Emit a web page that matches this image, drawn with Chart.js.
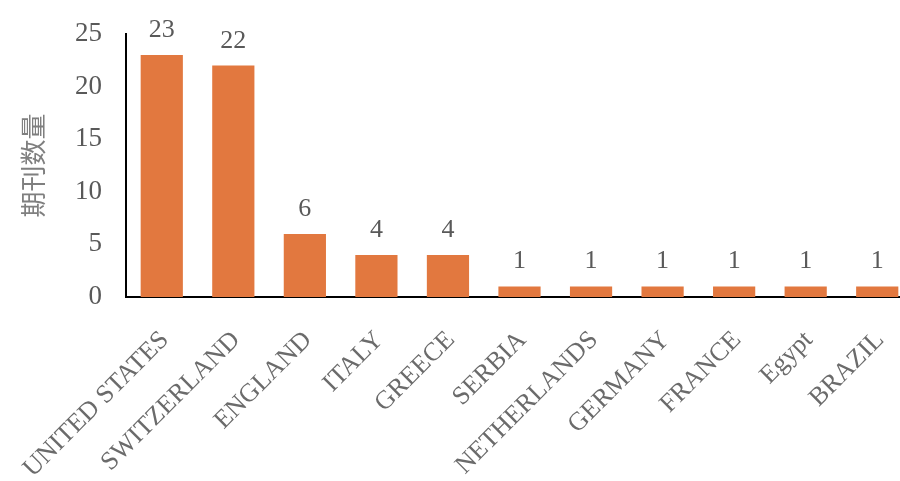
<!DOCTYPE html>
<html>
<head>
<meta charset="utf-8">
<script src="https://cdn.jsdelivr.net/npm/chart.js@4/dist/chart.umd.min.js"></script>
<style>
  html, body { margin: 0; padding: 0; background: #ffffff; overflow: hidden; }
  #wrap { width: 913px; height: 481px; }
</style>
</head>
<body>
<div id="wrap"><canvas id="c" width="913" height="481"></canvas></div>
<script>
const categories = ["UNITED STATES", "SWITZERLAND", "ENGLAND", "ITALY", "GREECE", "SERBIA", "NETHERLANDS", "GERMANY", "FRANCE", "Egypt", "BRAZIL"];
const journalCounts = [23, 22, 6, 4, 4, 1, 1, 1, 1, 1, 1];
const yTicks = [0, 5, 10, 15, 20, 25];
const yTitle = "期刊数量";

const serif = "'Liberation Serif', 'Times New Roman', serif";

const valueLabels = {
  id: 'valueLabels',
  afterDatasetsDraw(chart) {
    const ctx = chart.ctx;
    const meta = chart.getDatasetMeta(0);
    ctx.save();
    ctx.font = "26px " + serif;
    ctx.fillStyle = "#595959";
    ctx.textAlign = "center";
    ctx.textBaseline = "alphabetic";
    meta.data.forEach((bar, i) => {
      ctx.fillText(String(journalCounts[i]), bar.x, bar.y - 18);
    });
    ctx.restore();
  }
};

function zeroPad(scale) {
  scale.paddingLeft = 0;
  scale.paddingRight = 0;
  scale.paddingTop = 0;
  scale.paddingBottom = 0;
}

new Chart(document.getElementById('c'), {
  type: 'bar',
  data: {
    labels: categories,
    datasets: [{
      data: journalCounts,
      backgroundColor: '#E2783F',
      borderWidth: 0,
      categoryPercentage: 1.0,
      barPercentage: 0.59
    }]
  },
  options: {
    responsive: false,
    animation: false,
    devicePixelRatio: 1,
    layout: { padding: { top: 34, right: 0, bottom: 0, left: 0 } },
    plugins: { legend: { display: false }, tooltip: { enabled: false } },
    scales: {
      x: {
        grid: { display: false, drawTicks: false },
        border: { display: true, color: '#000000', width: 2 },
        ticks: {
          color: '#6b6b6b',
          font: { family: serif, size: 26 },
          minRotation: 45,
          maxRotation: 45,
          padding: 28,
          labelOffset: 3,
          autoSkip: false
        },
        afterFit(scale) { scale.height = 184; zeroPad(scale); }
      },
      y: {
        min: 0,
        max: 25,
        afterBuildTicks(scale) { scale.ticks = yTicks.map(v => ({ value: v })); },
        grid: { display: false, drawTicks: false },
        border: { display: true, color: '#000000', width: 2 },
        ticks: {
          color: '#595959',
          font: { family: serif, size: 27 },
          padding: 24
        },
        title: {
          display: true,
          text: yTitle,
          color: '#7f7f7f',
          font: { family: "'Noto Sans CJK SC', sans-serif", size: 26, lineHeight: 1 },
          padding: { top: 20, bottom: 0 }
        },
        afterFit(scale) { scale.width = 126; zeroPad(scale); }
      }
    }
  },
  plugins: [valueLabels]
});
</script>
</body>
</html>
